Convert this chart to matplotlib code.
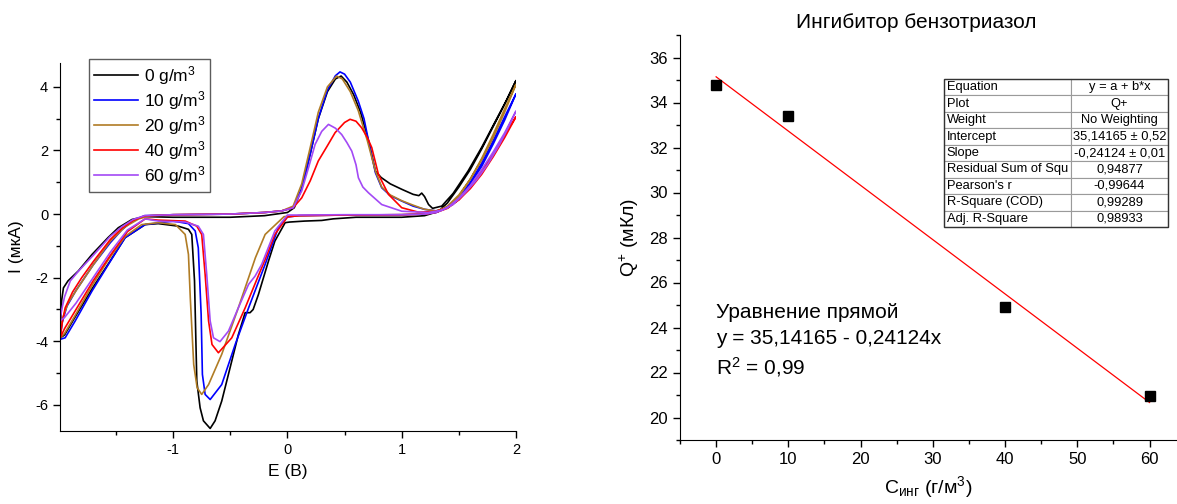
import matplotlib
matplotlib.use("Agg")
import matplotlib.pyplot as plt
from matplotlib.ticker import MultipleLocator
from matplotlib.patches import Rectangle

plt.rcParams['font.family'] = ['Liberation Sans', 'DejaVu Sans']
plt.rcParams['mathtext.fontset'] = 'custom'
plt.rcParams['mathtext.rm'] = 'Liberation Sans'
plt.rcParams['mathtext.it'] = 'Liberation Sans:italic'
plt.rcParams['mathtext.default'] = 'regular'
plt.rcParams['axes.unicode_minus'] = False

# ---------------- Left chart: cyclic voltammograms ----------------
labels_cv = ['0 g/m$^3$', '10 g/m$^3$', '20 g/m$^3$', '40 g/m$^3$', '60 g/m$^3$']
colors_cv = ['#000000', '#0000FF', '#B07C25', '#FF0000', '#A349F5']

# 0 g/m3
e0_fwd = [-1.99, -1.975, -1.96, -1.92, -1.83, -1.71, -1.57, -1.48, -1.36, -1.25, -1.0, -0.5, -0.2, 0.0, 0.06,
          0.125, 0.2, 0.27, 0.35, 0.42, 0.47, 0.52, 0.58, 0.64, 0.71, 0.77, 0.82, 0.9, 1.0, 1.1, 1.15, 1.175,
          1.2, 1.235, 1.27, 1.35, 1.45, 1.58, 1.7, 1.82, 1.92, 2.0]
i0_fwd = [-3.9, -2.7, -2.32, -2.1, -1.79, -1.27, -0.74, -0.43, -0.17, -0.08, -0.1, -0.1, -0.05, 0.05, 0.2,
          0.8, 1.9, 3.0, 3.85, 4.25, 4.34, 4.15, 3.75, 3.2, 2.3, 1.35, 1.15, 0.95, 0.78, 0.62, 0.58, 0.66,
          0.55, 0.3, 0.18, 0.25, 0.65, 1.35, 2.1, 2.92, 3.6, 4.2]
e0_rev = [2.0, 1.9, 1.8, 1.7, 1.6, 1.5, 1.4, 1.32, 1.2, 1.0, 0.8, 0.6, 0.4, 0.3, 0.15, 0.02, -0.02, -0.11,
          -0.166, -0.254, -0.3, -0.327, -0.37, -0.43, -0.487, -0.575, -0.633, -0.676, -0.735, -0.764, -0.793,
          -0.813, -0.837, -0.866, -0.954, -1.13, -1.245, -1.42, -1.57, -1.71, -1.86, -1.95, -1.99]
i0_rev = [4.2, 3.45, 2.75, 2.05, 1.4, 0.85, 0.35, 0.08, -0.05, -0.1, -0.1, -0.1, -0.15, -0.2, -0.22, -0.25,
          -0.27, -0.85, -1.48, -2.53, -3.0, -3.1, -3.1, -3.8, -4.62, -5.88, -6.5, -6.74, -6.5, -6.09, -5.25,
          -2.1, -0.64, -0.48, -0.38, -0.3, -0.33, -0.74, -1.58, -2.35, -3.25, -3.8, -3.9]

# 10 g/m3
e10_fwd = [-1.99, -1.97, -1.93, -1.85, -1.7, -1.55, -1.45, -1.35, -1.25, -1.0, -0.5, -0.2, -0.05, 0.05, 0.125,
           0.2, 0.27, 0.35, 0.42, 0.46, 0.5, 0.55, 0.62, 0.67, 0.71, 0.77, 0.825, 0.9, 1.0, 1.1, 1.2, 1.3,
           1.4, 1.5, 1.6, 1.7, 1.8, 1.9, 2.0]
i10_fwd = [-3.94, -3.4, -2.9, -2.4, -1.6, -0.9, -0.5, -0.2, -0.05, -0.02, 0.0, 0.05, 0.1, 0.2, 0.8,
           1.9, 3.0, 3.9, 4.35, 4.47, 4.4, 4.15, 3.55, 3.0, 2.3, 1.3, 0.83, 0.58, 0.41, 0.25, 0.15, 0.1,
           0.2, 0.5, 1.0, 1.6, 2.3, 3.05, 3.78]
e10_rev = [2.0, 1.9, 1.8, 1.7, 1.6, 1.5, 1.4, 1.3, 1.2, 1.0, 0.5, 0.1, 0.0, -0.08, -0.195, -0.25, -0.34,
           -0.457, -0.575, -0.676, -0.72, -0.744, -0.755, -0.78, -0.807, -0.866, -1.0, -1.245, -1.42,
           -1.566, -1.71, -1.857, -1.945, -1.99]
i10_rev = [3.78, 2.95, 2.2, 1.5, 0.95, 0.5, 0.2, 0.05, 0.0, -0.02, -0.03, -0.05, -0.09, -0.43, -1.58, -2.1,
           -2.95, -4.1, -5.36, -5.83, -5.67, -5.04, -3.15, -1.06, -0.53, -0.3, -0.22, -0.33, -0.74,
           -1.58, -2.42, -3.36, -3.89, -3.94]

# 20 g/m3
e20_fwd = [-1.99, -1.97, -1.92, -1.83, -1.7, -1.55, -1.42, -1.3, -1.2, -1.0, -0.5, -0.2, -0.05, 0.05, 0.125,
           0.2, 0.27, 0.35, 0.43, 0.48, 0.55, 0.62, 0.7, 0.77, 0.825, 0.9, 1.0, 1.1, 1.2, 1.3, 1.4, 1.5,
           1.6, 1.7, 1.8, 1.9, 2.0]
i20_fwd = [-3.9, -3.3, -2.8, -2.3, -1.6, -0.85, -0.4, -0.15, -0.05, -0.02, 0.0, 0.05, 0.1, 0.25, 0.95,
           2.1, 3.2, 4.0, 4.34, 4.25, 3.85, 3.25, 2.3, 1.35, 0.85, 0.6, 0.42, 0.28, 0.15, 0.1, 0.2, 0.55,
           1.1, 1.75, 2.5, 3.3, 4.08]
e20_rev = [2.0, 1.9, 1.8, 1.7, 1.6, 1.5, 1.4, 1.3, 1.2, 1.0, 0.5, 0.1, -0.03, -0.08, -0.195, -0.28, -0.43,
           -0.575, -0.69, -0.75, -0.79, -0.82, -0.85, -0.866, -0.895, -0.98, -1.13, -1.275, -1.42, -1.57,
           -1.71, -1.86, -1.95, -1.99]
i20_rev = [4.08, 3.2, 2.4, 1.7, 1.1, 0.6, 0.25, 0.07, 0.0, -0.02, -0.03, -0.05, -0.08, -0.25, -0.64, -1.37,
           -2.95, -4.41, -5.36, -5.67, -5.46, -4.73, -2.63, -1.27, -0.64, -0.33, -0.27, -0.33, -0.7, -1.45,
           -2.25, -3.2, -3.75, -3.9]

# 40 g/m3
e40_fwd = [-1.99, -1.97, -1.945, -1.88, -1.8, -1.7, -1.55, -1.45, -1.35, -1.25, -1.0, -0.5, -0.2, -0.05,
           0.05, 0.125, 0.2, 0.27, 0.35, 0.417, 0.5, 0.548, 0.6, 0.65, 0.7, 0.738, 0.796, 0.884, 1.0, 1.146,
           1.29, 1.4, 1.5, 1.6, 1.7, 1.8, 1.9, 2.0]
i40_fwd = [-3.9, -3.4, -2.95, -2.45, -2.0, -1.5, -0.8, -0.45, -0.2, -0.06, -0.02, 0.0, 0.05, 0.1,
           0.2, 0.51, 1.05, 1.67, 2.15, 2.56, 2.88, 2.98, 2.92, 2.71, 2.4, 2.09, 1.25, 0.62, 0.2, 0.06,
           0.08, 0.2, 0.45, 0.85, 1.35, 1.9, 2.5, 3.06]
e40_rev = [2.0, 1.9, 1.8, 1.7, 1.6, 1.5, 1.4, 1.3, 1.2, 1.0, 0.5, 0.1, 0.0, -0.11, -0.195, -0.25, -0.37,
           -0.487, -0.604, -0.66, -0.69, -0.72, -0.75, -0.793, -0.895, -1.13, -1.245, -1.4, -1.55, -1.7,
           -1.85, -1.95, -1.99]
i40_rev = [3.06, 2.4, 1.8, 1.25, 0.8, 0.45, 0.18, 0.05, 0.0, -0.02, -0.03, -0.05, -0.09, -0.64, -1.43,
           -1.9, -2.95, -3.89, -4.36, -4.1, -3.36, -1.9, -0.64, -0.38, -0.22, -0.19, -0.15, -0.55, -1.3,
           -2.1, -3.0, -3.6, -3.9]

# 60 g/m3
e60_fwd = [-1.99, -1.975, -1.95, -1.9, -1.83, -1.7, -1.55, -1.45, -1.35, -1.25, -1.0, -0.5, -0.2, -0.05,
           0.05, 0.125, 0.18, 0.242, 0.3, 0.359, 0.42, 0.475, 0.52, 0.563, 0.6, 0.621, 0.66, 0.709, 0.825,
           1.0, 1.23, 1.35, 1.45, 1.55, 1.65, 1.75, 1.85, 1.93, 2.0]
i60_fwd = [-3.36, -3.0, -2.6, -2.1, -1.8, -1.3, -0.7, -0.4, -0.17, -0.05, -0.02, 0.0, 0.05, 0.1,
           0.2, 0.73, 1.4, 2.19, 2.6, 2.82, 2.7, 2.5, 2.25, 1.98, 1.55, 1.14, 0.85, 0.67, 0.3,
           0.09, 0.05, 0.12, 0.3, 0.65, 1.05, 1.55, 2.15, 2.7, 3.24]
e60_rev = [2.0, 1.9, 1.8, 1.7, 1.6, 1.5, 1.4, 1.3, 1.2, 1.0, 0.5, 0.1, 0.0, -0.11, -0.225, -0.283, -0.34,
           -0.43, -0.516, -0.59, -0.647, -0.676, -0.706, -0.735, -0.78, -0.895, -1.13, -1.245, -1.4, -1.55,
           -1.7, -1.85, -1.95, -1.99]
i60_rev = [3.24, 2.55, 1.95, 1.4, 0.9, 0.5, 0.2, 0.05, 0.0, -0.02, -0.02, -0.03, -0.03, -0.53, -1.58,
           -1.95, -2.21, -2.95, -3.68, -4.01, -3.89, -3.36, -1.9, -0.64, -0.38, -0.25, -0.22, -0.15, -0.5,
           -1.2, -2.0, -2.8, -3.25, -3.36]

cv_series = [
    (e0_fwd + e0_rev, i0_fwd + i0_rev),
    (e10_fwd + e10_rev, i10_fwd + i10_rev),
    (e20_fwd + e20_rev, i20_fwd + i20_rev),
    (e40_fwd + e40_rev, i40_fwd + i40_rev),
    (e60_fwd + e60_rev, i60_fwd + i60_rev),
]

# ---------------- Right chart: charge vs inhibitor concentration ----------------
conc = [0, 10, 40, 60]
charge = [34.8, 33.4, 24.9, 20.95]
fit_a = 35.14165
fit_b = -0.24124
fit_x = [0, 60]

table_rows = [
    ['Equation', 'y = a + b*x'],
    ['Plot', 'Q+'],
    ['Weight', 'No Weighting'],
    ['Intercept', '35,14165 ± 0,52'],
    ['Slope', '-0,24124 ± 0,01'],
    ['Residual Sum of Squ', '0,94877'],
    ["Pearson's r", '-0,99644'],
    ['R-Square (COD)', '0,99289'],
    ['Adj. R-Square', '0,98933'],
]

W, H = 1177, 504
fig = plt.figure(figsize=(W / 100, H / 100), dpi=100)

# Left axes
ax1 = fig.add_axes([60 / W, 1 - 431 / H, (516 - 60) / W, (431 - 63) / H])
for (e, i), c, lab in zip(cv_series, colors_cv, labels_cv):
    ax1.plot(e, i, color=c, lw=1.2, label=lab)
ax1.set_xlim(-1.99, 2.0)
ax1.set_ylim(-6.82, 4.75)
ax1.xaxis.set_major_locator(MultipleLocator(1))
ax1.xaxis.set_minor_locator(MultipleLocator(0.5))
ax1.yaxis.set_major_locator(MultipleLocator(2))
ax1.yaxis.set_minor_locator(MultipleLocator(1))
ax1.spines['top'].set_visible(False)
ax1.spines['right'].set_visible(False)
ax1.tick_params(which='major', direction='out', length=5, width=1, labelsize=10.5)
ax1.tick_params(which='minor', direction='out', length=3, width=1)
ax1.set_xlabel('E (B)', fontsize=12.5, labelpad=5)
ax1.set_ylabel('I (мкА)', fontsize=12.5, labelpad=8)
leg = ax1.legend(loc='upper left', bbox_to_anchor=(89 / W, 1 - 59 / H), bbox_transform=fig.transFigure,
                 borderaxespad=0, fancybox=False, edgecolor='#333333', fontsize=12.5, handlelength=2.5,
                 labelspacing=0.12, handletextpad=0.35, borderpad=0.3)
leg.get_frame().set_linewidth(1.0)

# Right axes
ax2 = fig.add_axes([680 / W, 1 - 440 / H, (W - 680) / W, (440 - 35) / H])
ax2.plot(fit_x, [fit_a + fit_b * x for x in fit_x], color='#FF0000', lw=0.9)
ax2.plot(conc, charge, 's', color='black', markersize=7)
ax2.set_xlim(-5, 63.8)
ax2.set_ylim(19, 37)
ax2.xaxis.set_major_locator(MultipleLocator(10))
ax2.xaxis.set_minor_locator(MultipleLocator(5))
ax2.yaxis.set_major_locator(MultipleLocator(2))
ax2.yaxis.set_minor_locator(MultipleLocator(1))
ax2.spines['top'].set_visible(False)
ax2.spines['right'].set_visible(False)
ax2.tick_params(which='major', direction='out', length=5, width=1, labelsize=12)
ax2.tick_params(which='minor', direction='out', length=3, width=1)
ax2.set_xlabel('C$_{инг}$ (г/м$^3$)', fontsize=14, labelpad=5)
ax2.set_ylabel('Q$^{+}$ (мКл)', fontsize=14, labelpad=6)
fig.text(916 / W, 1 - 22 / H, 'Ингибитор бензотриазол', ha='center', va='center', fontsize=15)

ax2.text(716 / W, 1 - 312 / H, 'Уравнение прямой', transform=fig.transFigure, fontsize=15, va='center')
ax2.text(716 / W, 1 - 339 / H, 'y = 35,14165 - 0,24124x', transform=fig.transFigure, fontsize=15, va='center')
ax2.text(716 / W, 1 - 367 / H, 'R$^2$ = 0,99', transform=fig.transFigure, fontsize=15, va='center')

tb_left, tb_right, tb_top, tb_bot = 944, 1168, 79, 227
ax_w, ax_h = W - 680, 440 - 35
bbox = [(tb_left - 680) / ax_w, (440 - tb_bot) / ax_h, (tb_right - tb_left) / ax_w, (tb_bot - tb_top) / ax_h]
tbl = ax2.table(cellText=table_rows, colWidths=[0.567, 0.433], bbox=bbox, cellLoc='center')
tbl.auto_set_font_size(False)
tbl.set_fontsize(9.3)
for (r, c), cell in tbl.get_celld().items():
    cell.set_edgecolor('#9a9a9a')
    cell.set_linewidth(0.8)
    cell.PAD = 0.02
    if c == 0:
        cell.get_text().set_ha('left')
        cell._loc = 'left'
ax2.add_patch(Rectangle((bbox[0], bbox[1]), bbox[2], bbox[3], transform=ax2.transAxes, fill=False,
                        edgecolor='#333333', lw=1.0, zorder=10, clip_on=False))

fig.savefig('out.png', dpi=100)
